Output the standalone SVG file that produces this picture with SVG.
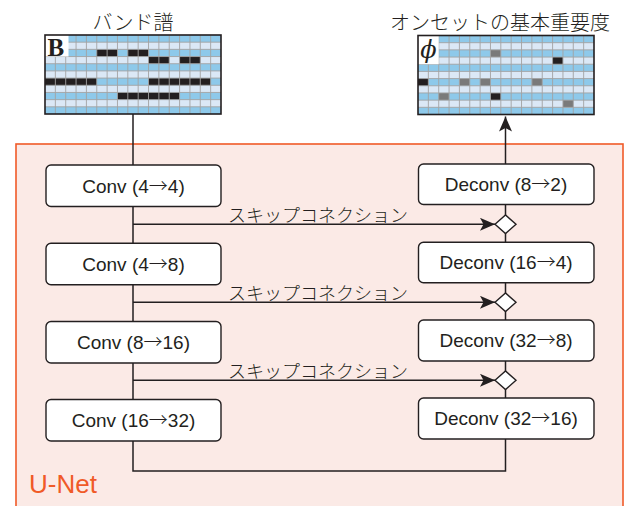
<svg xmlns="http://www.w3.org/2000/svg" xmlns:xlink="http://www.w3.org/1999/xlink" width="630" height="506" viewBox="0 0 630 506">
<style>
.ttl{font-family:"Noto Sans CJK JP","Noto Sans",sans-serif;font-size:20px;font-weight:300;fill:#231f20;text-anchor:middle}
.skip{font-family:"Noto Sans CJK JP","Noto Sans",sans-serif;font-size:18px;font-weight:300;fill:#231f20}
.lbl{font-family:"Liberation Sans",Arial,sans-serif;font-size:19px;fill:#231f20;text-anchor:middle}
.ar{font-family:"Noto Sans CJK JP",sans-serif;font-weight:300}
.box{fill:#ffffff;stroke:#231f20;stroke-width:1.4}
.ln{fill:none;stroke:#231f20;stroke-width:1.5}
.dia{fill:#ffffff;stroke:#231f20;stroke-width:1.4}
.blk{fill:#231f20}
.gry{fill:#7a7a7a}
.frame{fill:none;stroke:#231f20;stroke-width:1.6}
</style>
<defs>
<marker id="ah" markerUnits="userSpaceOnUse" markerWidth="16" markerHeight="13" refX="15" refY="6.5" orient="auto">
<path d="M0,0 L15,6.5 L0,13 L3.5,6.5 Z" fill="#231f20"/>
</marker>
<g id="gridbg">
<rect x="0" y="0" width="176" height="79" fill="#dbe8f6"/>
<g fill="#8ec9ea">
<rect x="0" y="0" width="176" height="7.182"/>
<rect x="0" y="14.364" width="176" height="7.182"/>
<rect x="0" y="28.727" width="176" height="7.182"/>
<rect x="0" y="43.091" width="176" height="7.182"/>
<rect x="0" y="57.455" width="176" height="7.182"/>
<rect x="0" y="71.818" width="176" height="7.182"/>
</g>
</g>
<path id="gridlines" fill="none" stroke="#a3a3a3" stroke-width="0.9" d="M10.35,0V79M20.71,0V79M31.06,0V79M41.41,0V79M51.76,0V79M62.12,0V79M72.47,0V79M82.82,0V79M93.18,0V79M103.53,0V79M113.88,0V79M124.24,0V79M134.59,0V79M144.94,0V79M155.29,0V79M165.65,0V79M0,7.18H176M0,14.36H176M0,21.55H176M0,28.73H176M0,35.91H176M0,43.09H176M0,50.27H176M0,57.45H176M0,64.64H176M0,71.82H176"/>
</defs>

<!-- U-Net container -->
<g id="unet">
<rect x="16" y="144" width="607" height="370" fill="#fbeae6" stroke="#f05a28" stroke-width="1.6"/>
<text x="29" y="493" style="font-family:'Liberation Sans',Arial,sans-serif;font-size:26px;fill:#f05a28">U-Net</text>
</g>

<!-- Band score grid -->
<g id="band-score">
<text class="ttl" x="133" y="30">バンド譜</text>
<g transform="translate(45,35)">
<use xlink:href="#gridbg"/>
<rect class="blk" x="51.76" y="14.36" width="20.71" height="7.18"/>
<rect class="blk" x="82.82" y="14.36" width="20.71" height="7.18"/>
<rect class="blk" x="103.53" y="21.55" width="20.71" height="7.18"/>
<rect class="blk" x="134.59" y="21.55" width="20.71" height="7.18"/>
<rect class="blk" x="0" y="43.09" width="51.76" height="7.18"/>
<rect class="blk" x="103.53" y="43.09" width="62.12" height="7.18"/>
<rect class="blk" x="72.47" y="57.45" width="62.12" height="7.18"/>
<use xlink:href="#gridlines"/>
<rect x="0" y="0" width="23.5" height="21.5" fill="#ffffff"/>
<text x="2.5" y="21" style="font-family:'Liberation Serif','Times New Roman',serif;font-weight:bold;font-size:25px;fill:#231f20">B</text>
<rect class="frame" x="0" y="0" width="176" height="79"/>
</g>
</g>

<!-- Onset importance grid -->
<g id="onset-importance">
<text class="ttl" x="500" y="30">オンセットの基本重要度</text>
<g transform="translate(418,35.5)">
<use xlink:href="#gridbg"/>
<rect class="gry" x="72.47" y="14.36" width="10.35" height="7.18"/>
<rect class="blk" x="134.59" y="21.55" width="10.35" height="7.18"/>
<rect class="blk" x="0" y="43.09" width="10.35" height="7.18"/>
<rect class="gry" x="41.41" y="43.09" width="10.35" height="7.18"/>
<rect class="gry" x="62.12" y="43.09" width="10.35" height="7.18"/>
<rect class="gry" x="113.88" y="43.09" width="10.35" height="7.18"/>
<rect class="gry" x="20.71" y="57.45" width="10.35" height="7.18"/>
<rect class="blk" x="72.47" y="57.45" width="10.35" height="7.18"/>
<rect class="gry" x="144.94" y="64.64" width="10.35" height="7.18"/>
<use xlink:href="#gridlines"/>
<rect x="0" y="0" width="20.7" height="28.7" fill="#ffffff"/>
<text x="10.5" y="22" text-anchor="middle" style="font-family:'DejaVu Serif','Liberation Serif',serif;font-style:italic;font-size:24px;fill:#231f20">ϕ</text>
<rect class="frame" x="0" y="0" width="176" height="79"/>
</g>
</g>

<!-- Connectors -->
<g id="connectors">
<path class="ln" d="M133,114 V471 H505.5 V164"/>
<path class="ln" d="M505.5,164 V116.5" marker-end="url(#ah)"/>
<path class="ln" d="M133,224.3 H495" marker-end="url(#ah)"/>
<path class="ln" d="M133,302.3 H495" marker-end="url(#ah)"/>
<path class="ln" d="M133,380.3 H495" marker-end="url(#ah)"/>
<text class="skip" x="228" y="221.8">スキップコネクション</text>
<text class="skip" x="228" y="299.8">スキップコネクション</text>
<text class="skip" x="228" y="377.8">スキップコネクション</text>
</g>

<!-- Merge diamonds -->
<g id="merge1"><polygon class="dia" points="495,224.3 505.5,215 516,224.3 505.5,233.6"/></g>
<g id="merge2"><polygon class="dia" points="495,302.3 505.5,293 516,302.3 505.5,311.6"/></g>
<g id="merge3"><polygon class="dia" points="495,380.3 505.5,371 516,380.3 505.5,389.6"/></g>

<!-- Encoder -->
<g id="conv1"><rect class="box" x="46" y="165" width="175" height="41.5" rx="5"/><text class="lbl" x="133.5" y="192.5">Conv (4<tspan class="ar">→</tspan>4)</text></g>
<g id="conv2"><rect class="box" x="46" y="243.3" width="175" height="41.5" rx="5"/><text class="lbl" x="133.5" y="270.8">Conv (4<tspan class="ar">→</tspan>8)</text></g>
<g id="conv3"><rect class="box" x="46" y="321.5" width="175" height="41.5" rx="5"/><text class="lbl" x="133.5" y="349">Conv (8<tspan class="ar">→</tspan>16)</text></g>
<g id="conv4"><rect class="box" x="46" y="399.5" width="175" height="41.5" rx="5"/><text class="lbl" x="133.5" y="427">Conv (16<tspan class="ar">→</tspan>32)</text></g>

<!-- Decoder -->
<g id="deconv1"><rect class="box" x="418.5" y="164" width="175.5" height="40.5" rx="5"/><text class="lbl" x="506" y="191">Deconv (8<tspan class="ar">→</tspan>2)</text></g>
<g id="deconv2"><rect class="box" x="418.5" y="242.3" width="175.5" height="40.5" rx="5"/><text class="lbl" x="506" y="269.3">Deconv (16<tspan class="ar">→</tspan>4)</text></g>
<g id="deconv3"><rect class="box" x="418.5" y="320" width="175.5" height="41" rx="5"/><text class="lbl" x="506" y="347.3">Deconv (32<tspan class="ar">→</tspan>8)</text></g>
<g id="deconv4"><rect class="box" x="418.5" y="398" width="175.5" height="41" rx="5"/><text class="lbl" x="506" y="425.3">Deconv (32<tspan class="ar">→</tspan>16)</text></g>
</svg>
